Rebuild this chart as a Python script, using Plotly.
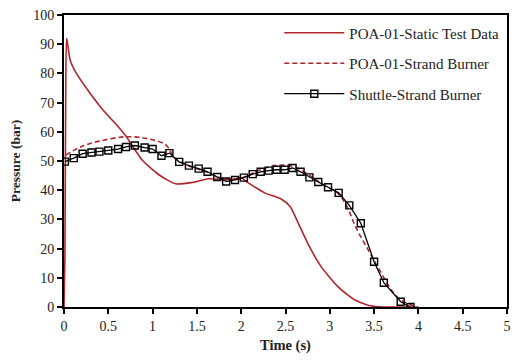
import plotly.graph_objects as go

# Static test data (solid red)
static_t = [0, 0.01, 0.02, 0.03, 0.07, 0.14, 0.29, 0.44, 0.59, 0.70, 0.88, 1.07, 1.26, 1.44,
            1.63, 1.89, 2.00, 2.08, 2.27, 2.45, 2.55, 2.64, 2.75, 2.90, 3.09, 3.28, 3.46, 3.60, 4.00]
static_p = [0, 17, 75, 92, 84.5, 80, 73.4, 67.5, 62.5, 58.5, 50.4, 45.3, 42.2, 42.6,
            43.9, 43.6, 44.2, 42.5, 39, 37, 34.5, 29, 21.9, 13.9, 7, 2.5, 0.4, 0, 0]

# POA-01 strand burner (dashed red)
strand_t = [0.02, 0.20, 0.40, 0.70, 0.95, 1.15, 1.25, 1.40, 1.60, 1.80, 2.00, 2.20, 2.40, 2.60,
            2.80, 2.92, 3.09, 3.20, 3.29, 3.42, 3.56, 3.72, 3.83, 3.98]
strand_p = [52, 55, 56.8, 58.3, 57.6, 55.5, 51, 48.5, 46.3, 44, 44.2, 46.8, 48.5, 48,
            44.5, 41.9, 39, 34, 27.5, 20.3, 12.7, 4.8, 1.9, 0]

# Shuttle strand burner (black, open squares)
shuttle_t = [0.01, 0.11, 0.21, 0.31, 0.40, 0.50, 0.61, 0.70, 0.80, 0.91, 1.00, 1.10, 1.19, 1.30,
             1.41, 1.52, 1.62, 1.73, 1.83, 1.93, 2.03, 2.13, 2.22, 2.31, 2.40, 2.49, 2.58, 2.67,
             2.77, 2.87, 2.98, 3.10, 3.22, 3.35, 3.50, 3.61, 3.80, 3.91]
shuttle_p = [49.8, 51, 52.5, 52.9, 53.2, 53.6, 54.1, 54.8, 55.3, 54.6, 54.1, 51.8, 52.7, 49.7,
             48.4, 47.4, 46.3, 44.5, 43, 43.5, 44.3, 45.5, 46.3, 46.7, 47, 47, 47.6, 46.3,
             44.4, 42.8, 41, 39.1, 34.8, 28.7, 15.5, 8.3, 1.8, 0]

x_ticks = [0, 0.5, 1, 1.5, 2, 2.5, 3, 3.5, 4, 4.5, 5]
y_ticks = [0, 10, 20, 30, 40, 50, 60, 70, 80, 90, 100]

RED = "#b0262b"
FONT = "Liberation Serif"

fig = go.Figure()
fig.add_trace(go.Scatter(x=static_t, y=static_p, mode="lines", name="POA-01-Static Test Data",
                         line=dict(color=RED, width=1.6, shape="spline", smoothing=0.6),
                         legendgroup="a"))
fig.add_trace(go.Scatter(x=strand_t, y=strand_p, mode="lines", name="POA-01-Strand Burner",
                         line=dict(color=RED, width=1.6, dash="5px,3px", shape="spline"),
                         legendgroup="b"))
fig.add_trace(go.Scatter(x=shuttle_t, y=shuttle_p, mode="lines+markers", name="Shuttle-Strand Burner",
                         line=dict(color="black", width=1.3),
                         marker=dict(symbol="square-open", size=7, color="black",
                                     line=dict(width=1.4, color="black")),
                         legendgroup="c"))

fig.update_layout(
    width=514, height=360,
    margin=dict(l=64, r=3, t=15, b=53),
    paper_bgcolor="white", plot_bgcolor="white",
    font=dict(family=FONT, size=13, color="#222"),
    showlegend=True,
    legend=dict(x=0.486, y=0.995, xanchor="left", yanchor="top",
                bgcolor="rgba(0,0,0,0)", font=dict(family=FONT, size=15, color="#222"),
                tracegroupgap=8, itemwidth=60),
)
fig.update_xaxes(range=[0, 5], tickvals=x_ticks, ticktext=[str(v) for v in x_ticks],
                 showgrid=False, zeroline=False,
                 showline=True, linecolor="black", linewidth=2, mirror=True,
                 ticks="outside", ticklen=5, tickcolor="black", tickwidth=1.5,
                 tickfont=dict(family=FONT, size=14, color="#222"),
                 title=dict(text="<b>Time (s)</b>", font=dict(family=FONT, size=14.5, color="#222"),
                            standoff=7))
fig.update_yaxes(range=[0, 100], tickvals=y_ticks,
                 showgrid=False, zeroline=False,
                 showline=True, linecolor="black", linewidth=2, mirror=True,
                 ticks="outside", ticklen=5, tickcolor="black", tickwidth=1.5,
                 tickfont=dict(family=FONT, size=14, color="#222"),
                 title=dict(text="<b>Pressure (bar)</b>", font=dict(family=FONT, size=13.5, color="#222"),
                            standoff=9))

fig.write_html("out.html")
